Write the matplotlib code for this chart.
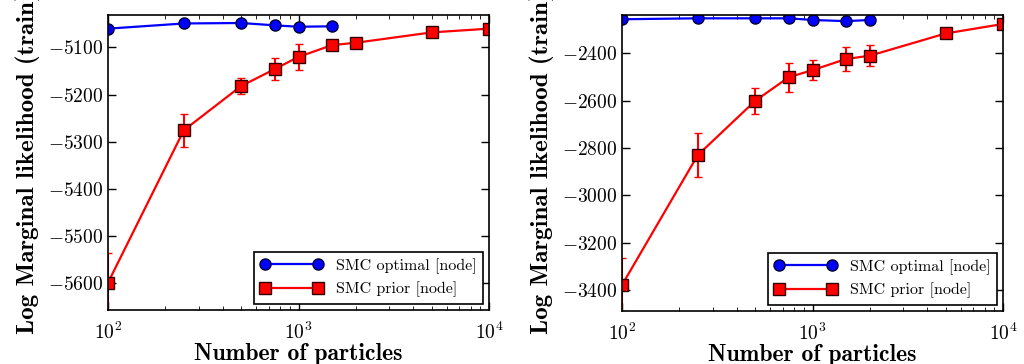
import matplotlib
matplotlib.use("Agg")
import matplotlib.pyplot as plt

plt.rcParams['font.family'] = 'serif'
plt.rcParams['font.serif'] = ['cmr10', 'DejaVu Serif']
plt.rcParams['mathtext.fontset'] = 'cm'
plt.rcParams['axes.formatter.use_mathtext'] = True
plt.rcParams['xtick.direction'] = 'in'
plt.rcParams['ytick.direction'] = 'in'
plt.rcParams['xtick.top'] = True
plt.rcParams['ytick.right'] = True

# --- left panel ---
opt_x_left = [100, 250, 500, 750, 1000, 1500]
opt_y_left = [-5060, -5049, -5048, -5053, -5056, -5055]
opt_err_left = [3, 4, 5, 4, 3, 2]
prior_x_left = [100, 250, 500, 750, 1000, 1500, 2000, 5000, 10000]
prior_y_left = [-5600, -5276, -5182, -5146, -5120, -5095, -5090, -5068, -5060]
prior_err_left = [63, 35, 17, 24, 27, 5, 4, 3, 3]

# --- right panel ---
opt_x_right = [100, 250, 500, 750, 1000, 1500, 2000]
opt_y_right = [-2256, -2252, -2252, -2252, -2259, -2264, -2259]
opt_err_right = [4, 4, 4, 4, 4, 4, 4]
prior_x_right = [100, 250, 500, 750, 1000, 1500, 2000, 5000, 10000]
prior_y_right = [-3379, -2830, -2601, -2501, -2471, -2424, -2410, -2316, -2276]
prior_err_right = [113, 92, 54, 62, 42, 49, 44, 8, 6]

ylims = [(-5658, -5031), (-3489, -2238)]
yticks = [[-5600, -5500, -5400, -5300, -5200, -5100],
          [-3400, -3200, -3000, -2800, -2600, -2400]]

fig = plt.figure(figsize=(10.24, 3.64), dpi=100)
axes = [fig.add_axes([108/1024, 1 - 310/364, 381/1024, 295/364]),
        fig.add_axes([622/1024, 1 - 311/364, 381/1024, 296/364])]

panels = [(opt_x_left, opt_y_left, opt_err_left, prior_x_left, prior_y_left, prior_err_left),
          (opt_x_right, opt_y_right, opt_err_right, prior_x_right, prior_y_right, prior_err_right)]

for i, (ax, p) in enumerate(zip(axes, panels)):
    ox, oy, oe, px, py, pe = p
    # error bars first, then lines with markers on top
    ax.errorbar(ox, oy, yerr=oe, fmt='none', ecolor='blue', capsize=3, elinewidth=1.5)
    ax.errorbar(px, py, yerr=pe, fmt='none', ecolor='red', capsize=3, elinewidth=1.5)
    ax.plot(ox, oy, color='blue', marker='o', markersize=8,
            markeredgecolor='#000033', markeredgewidth=1, lw=1.6,
            label='SMC optimal [node]')
    ax.plot(px, py, color='red', marker='s', markersize=8,
            markeredgecolor='#330000', markeredgewidth=1, lw=1.6,
            label='SMC prior [node]')
    ax.set_xscale('log')
    ax.set_xlim(100, 10000)
    ax.set_ylim(*ylims[i])
    ax.set_yticks(yticks[i])
    ax.tick_params(labelsize=14, length=6, width=1)
    ax.tick_params(axis='x', pad=8)
    ax.tick_params(which='minor', length=3)
    ax.set_xlabel('Number of particles', fontsize=17, family='cmb10', labelpad=0)
    ax.set_ylabel('Log Marginal likelihood (train)', fontsize=18, family='cmb10', labelpad=6)
    for s in ax.spines.values():
        s.set_linewidth(1.2)
    leg = ax.legend(loc='lower right', numpoints=2, fontsize=11.5, fancybox=False,
                    framealpha=1, borderaxespad=0.4, handlelength=3.9)
    leg.get_frame().set_edgecolor('black')
    leg.get_frame().set_linewidth(1.2)

fig.savefig('out.png', dpi=100)
